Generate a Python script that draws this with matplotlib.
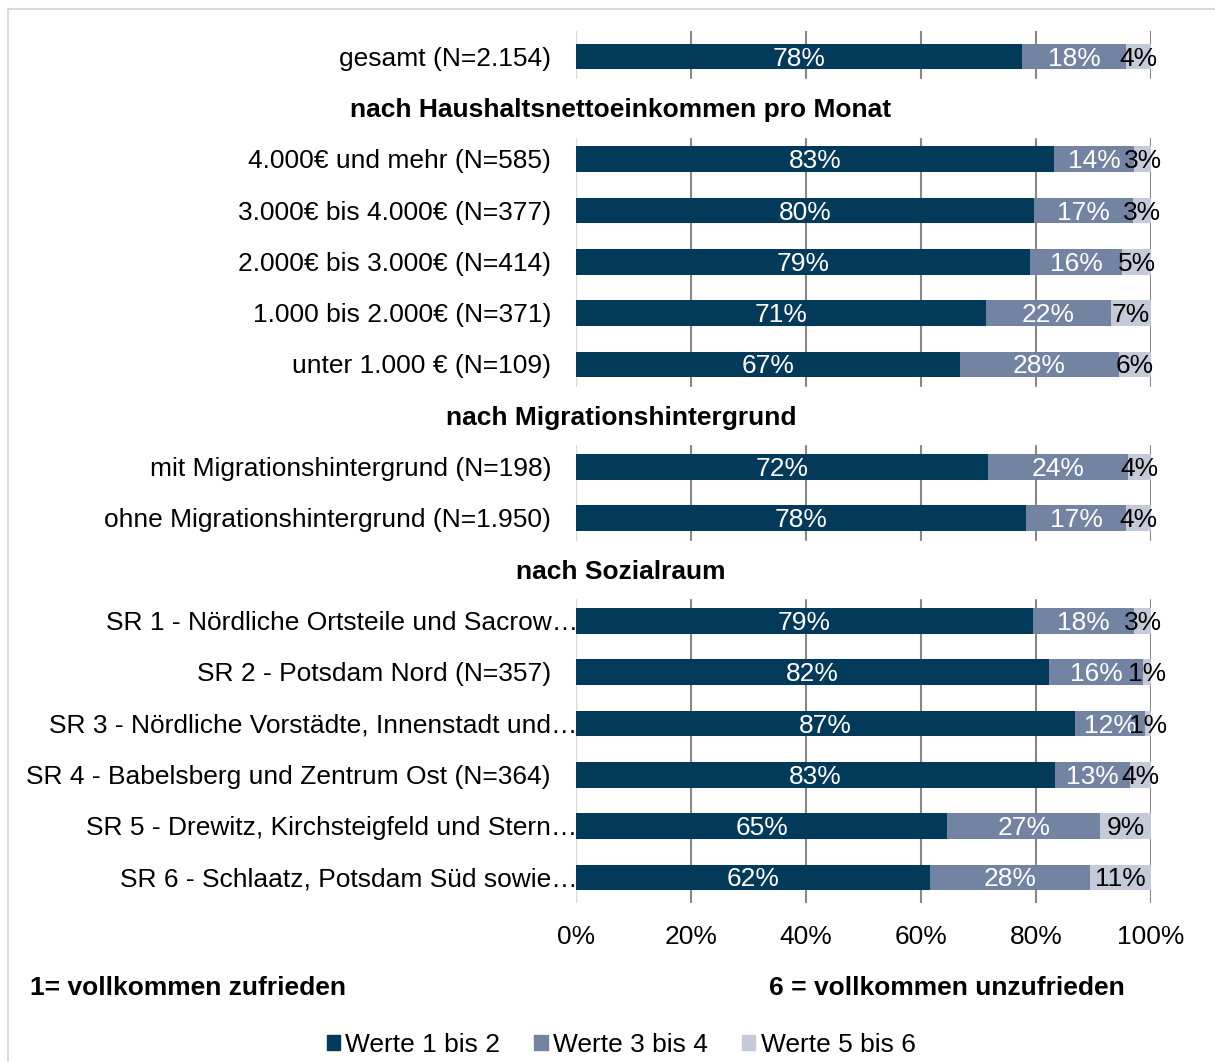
import matplotlib
matplotlib.use("Agg")
import matplotlib.pyplot as plt
import matplotlib.transforms as mtransforms
from matplotlib.patches import Patch, Rectangle

plt.rcParams["font.family"] = ["Liberation Sans", "DejaVu Sans"]

# Zeilen (None = Zwischenueberschrift)
row_labels = [
    "gesamt (N=2.154)",
    "nach Haushaltsnettoeinkommen pro Monat",
    "4.000€ und mehr (N=585)",
    "3.000€ bis 4.000€ (N=377)",
    "2.000€ bis 3.000€ (N=414)",
    "1.000 bis 2.000€ (N=371)",
    "unter 1.000 € (N=109)",
    "nach Migrationshintergrund",
    "mit Migrationshintergrund (N=198)",
    "ohne Migrationshintergrund (N=1.950)",
    "nach Sozialraum",
    "SR 1 - Nördliche Ortsteile und Sacrow…",
    "SR 2 - Potsdam Nord (N=357)",
    "SR 3 - Nördliche Vorstädte, Innenstadt und…",
    "SR 4 - Babelsberg und Zentrum Ost (N=364)",
    "SR 5 - Drewitz, Kirchsteigfeld und Stern…",
    "SR 6 - Schlaatz, Potsdam Süd sowie…",
]
werte_1_2 = [77.6, None, 83.1, 79.7, 79.0, 71.3, 66.8, None, 71.6, 78.3, None,
             79.4, 82.3, 86.8, 83.3, 64.6, 61.6]
werte_3_4 = [18.1, None, 14.0, 17.2, 16.0, 21.7, 27.6, None, 24.4, 17.4, None,
             17.7, 16.3, 12.2, 13.1, 26.6, 27.8]
werte_5_6 = [4.3, None, 2.9, 3.1, 5.0, 7.0, 5.6, None, 4.0, 4.3, None,
             2.9, 1.4, 1.0, 3.6, 8.8, 10.6]
series_names = ["Werte 1 bis 2", "Werte 3 bis 4", "Werte 5 bis 6"]
xticks = [0, 20, 40, 60, 80, 100]

colors = ["#033a59", "#7383a2", "#c5cad8"]
text_colors = ["white", "white", "black"]
fs = 19

W, H = 1215, 1062
fig = plt.figure(figsize=(W / 100, H / 100), dpi=100)
ax = fig.add_axes([576 / W, 1 - 903 / H, 575 / W, 872 / H])

n = len(row_labels)
ax.set_xlim(0, 100)
ax.set_ylim(n - 0.5, -0.5)
ax.set_axisbelow(True)
ax.xaxis.grid(True, color="#878787", lw=1.5)
ax.axvline(0, color="#d9d9d9", lw=1.5, zorder=0.6)
ax.set_xticks(xticks)
ax.set_xticklabels([f"{t}%" for t in xticks])
ax.set_yticks([])
ax.tick_params(axis="x", length=0, pad=16, labelsize=fs)
for s in ax.spines.values():
    s.set_visible(False)

hdr_tr = mtransforms.blended_transform_factory(fig.transFigure, ax.transData)
lab_tr = mtransforms.blended_transform_factory(ax.transAxes, ax.transData)
dy = 0.04  # kleine Korrektur der Textlage

for i, lab in enumerate(row_labels):
    if werte_1_2[i] is None:
        ax.axhspan(i - 0.56, i + 0.56, color="white", zorder=1)
        ax.text(621 / W, i + dy, lab, transform=hdr_tr, ha="center", va="center",
                fontsize=fs, fontweight="bold", zorder=5)
        continue
    xoff = 0.003 if lab.endswith("…") else -25 / 575
    ax.text(xoff, i + dy, lab, transform=lab_tr, ha="right", va="center", fontsize=fs)
    left = 0
    for vals, c, tc in zip([werte_1_2, werte_3_4, werte_5_6], colors, text_colors):
        v = vals[i]
        ax.barh(i, v, left=left, height=0.5, color=c, zorder=2)
        ax.text(left + v / 2, i + dy, f"{v:.0f}%", ha="center", va="center",
                color=tc, fontsize=fs, zorder=4)
        left += v

fig.text(30 / W, 1 - 988 / H, "1= vollkommen zufrieden", ha="left", va="center",
         fontsize=fs, fontweight="bold")
fig.text(947 / W, 1 - 988 / H, "6 = vollkommen unzufrieden", ha="center", va="center",
         fontsize=fs, fontweight="bold")

handles = [Patch(color=c) for c in colors]
fig.legend(handles, series_names, loc="center", bbox_to_anchor=(621 / W, 1 - 1045 / H),
           ncol=3, frameon=False, fontsize=fs, handlelength=0.5, handleheight=0.5,
           handletextpad=0.2, columnspacing=1.3)

fig.patches.append(Rectangle((8 / W, -0.05), 1.1, 1 - 9 / H + 0.05, transform=fig.transFigure,
                             fill=False, edgecolor="#d9d9d9", lw=1.5))

fig.savefig("out.png", dpi=100)
